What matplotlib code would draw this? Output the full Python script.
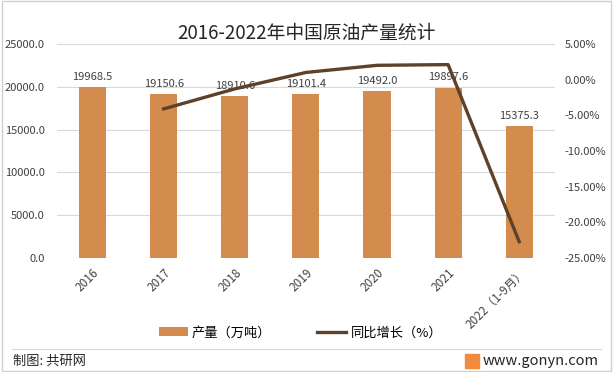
import matplotlib.pyplot as plt
import numpy as np
from matplotlib.patches import Rectangle

plt.rcParams['font.family'] = ['Noto Sans CJK SC', 'DejaVu Sans']

years = ['2016', '2017', '2018', '2019', '2020', '2021', '2022（1-9月）']
output = [19968.5, 19150.6, 18910.6, 19101.4, 19492.0, 19897.6, 15375.3]
growth = [None, -4.1, -1.3, 1.0, 2.0, 2.1, -22.7]

bar_color = '#D48C4E'
line_color = '#5E4129'

fig = plt.figure(figsize=(6.13, 3.72), dpi=100)
ax = fig.add_axes([0.093, 0.306, 0.812, 0.576])
x = np.arange(len(years))

ax.bar(x, output, width=0.38, color=bar_color, zorder=2, label='产量（万吨）')
for xi, v in zip(x, output):
    ax.text(xi, v + 600, f'{v:.1f}', ha='center', va='bottom', fontsize=8, color='#404040')
ax.set_ylim(0, 25000)
ax.set_yticks(np.arange(0, 25001, 5000))
ax.set_yticklabels([f'{v:.1f}' for v in np.arange(0, 25001, 5000)], fontsize=8, color='#404040')
ax.grid(axis='y', color='#D9D9D9', linewidth=0.8, zorder=0)
ax.set_xlim(-0.5, len(years) - 0.5)
ax.set_xticks(x)
ax.set_xticklabels(years, rotation=45, ha='right', rotation_mode='anchor', fontsize=8.5, color='#404040')
ax.tick_params(length=0, pad=6)
ax.tick_params(axis='y', pad=9)
for s in ax.spines.values():
    s.set_visible(False)

ax2 = ax.twinx()
gx = [xi for xi, g in zip(x, growth) if g is not None]
gy = [g for g in growth if g is not None]
ax2.plot(gx, gy, color=line_color, linewidth=2.4, label='同比增长（%）', zorder=3)
ax2.set_ylim(-25, 5)
ax2.set_yticks(np.arange(-25, 5.1, 5))
ax2.set_yticklabels([f'{v:.2f}%' for v in np.arange(-25, 5.1, 5)], fontsize=8, color='#404040')
ax2.tick_params(length=0, pad=7)
for s in ax2.spines.values():
    s.set_visible(False)

fig.text(0.5, 0.91, '2016-2022年中国原油产量统计', ha='center', va='center', fontsize=13.5, color='#262626')

h1, l1 = ax.get_legend_handles_labels()
h2, l2 = ax2.get_legend_handles_labels()
fig.legend(h1 + h2, l1 + l2, loc='center', bbox_to_anchor=(0.49, 0.105), ncol=2, frameon=False,
           fontsize=9.5, handlelength=2.2, handletextpad=0.3, columnspacing=3.5)

fig.add_artist(plt.Line2D([0.02, 0.98], [0.062, 0.062], color='#D9D9D9', linewidth=0.8))
fig.text(0.022, 0.03, '制图: 共研网', ha='left', va='center', fontsize=9.5, color='#262626')
fig.text(0.977, 0.03, 'www.gonyn.com', ha='right', va='center', fontsize=10.5, color='#262626')
fig.add_artist(Rectangle((0.759, 0.012), 0.022, 0.036, color='#F08A3C', transform=fig.transFigure))
fig.add_artist(Rectangle((0.003, 0.003), 0.994, 0.994, fill=False, edgecolor='#D0D0D0', linewidth=1,
                         transform=fig.transFigure))

fig.savefig('out.png', dpi=100)
